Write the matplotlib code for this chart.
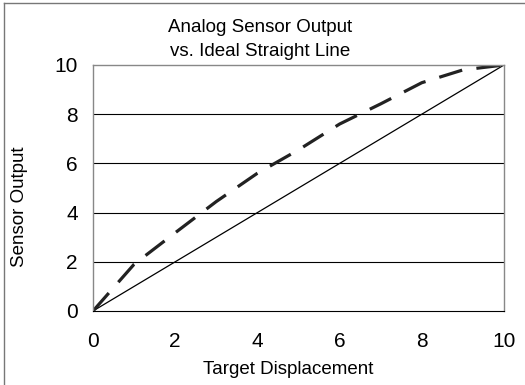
import matplotlib.pyplot as plt
from matplotlib.lines import Line2D

plt.rcParams['font.family'] = ['Liberation Sans', 'DejaVu Sans']

# data
displacement = [0, 1, 2, 3, 4, 5, 6, 7, 8, 9, 10]
sensor = [0, 1.9, 3.18, 4.45, 5.6, 6.55, 7.6, 8.42, 9.28, 9.8, 10]
ideal = [0, 1, 2, 3, 4, 5, 6, 7, 8, 9, 10]
yticks = [0, 2, 4, 6, 8, 10]
xticks = [0, 2, 4, 6, 8, 10]

fig = plt.figure(figsize=(5.25, 3.85), dpi=100)
ax = fig.add_axes([93 / 525, 1 - 311 / 385, 411 / 525, 246 / 385])

ax.plot(ideal, ideal, color="black", lw=0.9)
ax.plot(displacement, sensor, color="#222222", lw=2.3, dashes=(7.5, 4.5))

ax.set_xlim(0, 10)
ax.set_ylim(0, 10)
ax.set_xticks(xticks)
ax.set_yticks(yticks)
ax.tick_params(length=0, labelsize=15)
ax.tick_params(axis="x", pad=15)
ax.tick_params(axis="y", pad=11)
for y in yticks[1:-1]:
    ax.axhline(y, color="black", lw=0.8, zorder=0)
for side in ["top", "left", "right"]:
    ax.spines[side].set_color("#888888")
    ax.spines[side].set_linewidth(1.0)
ax.spines["bottom"].set_color("black")
ax.spines["bottom"].set_linewidth(0.8)

# axis labels placed in figure coordinates
ax.set_xlabel("Target Displacement", fontsize=13.5)
ax.xaxis.set_label_coords(288 / 525, 1 - 369 / 385, transform=fig.transFigure)
ax.xaxis.label.set_va("center")
ax.set_ylabel("Sensor Output", fontsize=13.5)
ax.yaxis.set_label_coords(20 / 525, 1 - 207 / 385, transform=fig.transFigure)
ax.yaxis.label.set_va("center")

fig.text(260 / 525, 1 - 27 / 385, "Analog Sensor Output", ha="center", va="center", fontsize=13.5)
fig.text(260 / 525, 1 - 51 / 385, "vs. Ideal Straight Line", ha="center", va="center", fontsize=13.5)

# outer frame (left and top edges visible)
fig.add_artist(Line2D([4 / 525, 4 / 525], [0, 1 - 3 / 385], transform=fig.transFigure, color="#777777", lw=1))
fig.add_artist(Line2D([4 / 525, 1], [1 - 3 / 385, 1 - 3 / 385], transform=fig.transFigure, color="#777777", lw=1))

fig.savefig("out.png", dpi=100)
